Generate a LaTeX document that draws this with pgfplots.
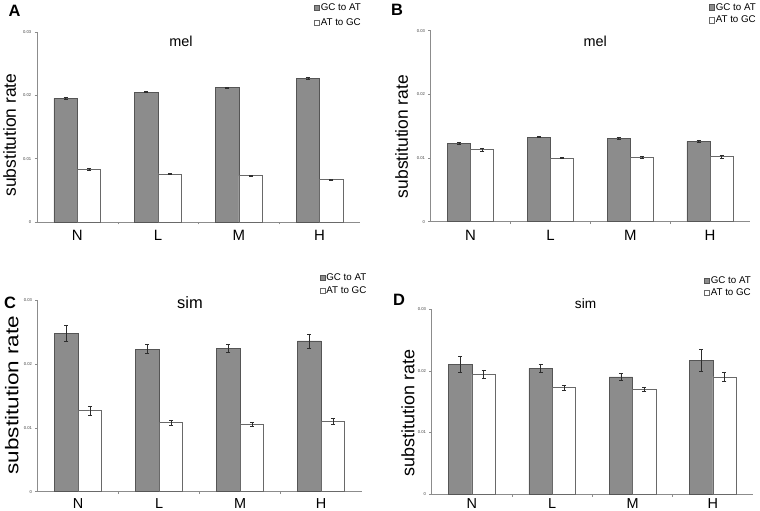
\documentclass[border=0pt]{standalone}
\usepackage{fontspec}
\setmainfont{Liberation Sans}
\usepackage{graphicx}
\usepackage{pgfplots}
\pgfplotsset{compat=1.18}
\definecolor{barg}{RGB}{140,140,140}
\definecolor{bargedge}{RGB}{85,85,85}
\definecolor{whiteedge}{RGB}{105,105,105}
\definecolor{axgray}{RGB}{140,140,140}
\definecolor{errc}{RGB}{45,45,45}
\pgfplotsset{
 panel/.style={
  scale only axis, clip=false,
  xmin=-0.5, xmax=3.5, ymin=0, ymax=0.03,
  axis x line=bottom, axis y line=left,
  axis line style={-, draw=axgray, line width=0.6pt},
  xtick={0,1,2,3}, xticklabels={N,L,M,H},
  x tick label style={font=\fontsize{15}{15}\selectfont, inner sep=0pt, anchor=north, yshift=-5.5bp},
  major x tick style={draw=none},
  extra x ticks={0.5,1.5,2.5}, extra x tick labels={},
  extra x tick style={major x tick style={draw=axgray, line width=0.5pt}},
  ytick={0,0.01,0.02,0.03}, yticklabels={0,0.01,0.02,0.03},
  scaled y ticks=false,
  y tick label style={font=\fontsize{4.2}{4.2}\selectfont, inner sep=0pt, anchor=east, xshift=-3bp, text=black!75},
  major y tick style={draw=axgray, line width=0.5pt},
  major tick length=2.5bp, tick align=outside,
  ybar, bar width=0.29,
  ylabel={substitution rate},
  ylabel style={font=\fontsize{17.5}{18}\selectfont, inner sep=0pt, anchor=center},
  legend style={draw=none, fill=none, inner sep=0pt, outer sep=0pt,
     font=\fontsize{9.8}{11}\selectfont, anchor=north west,
     nodes={inner sep=1bp}},
  legend cell align=left,
  legend image code/.code={\draw[#1, line width=0.4pt] (0bp,-2.7bp) rectangle (5.4bp,2.7bp);},
 },
 gcbar/.style={fill=barg, draw=bargedge, line width=0.6pt, bar shift=-0.145,
   error bars/.cd, y dir=both, y explicit,
   error bar style={draw=errc, line width=0.6pt},
   error mark options={draw=errc, line width=0.6pt, mark size=2bp, rotate=90}},
 atbar/.style={fill=white, draw=whiteedge, line width=0.6pt, bar shift=0.145,
   error bars/.cd, y dir=both, y explicit,
   error bar style={draw=errc, line width=0.6pt},
   error mark options={draw=errc, line width=0.6pt, mark size=2bp, rotate=90}},
}
\begin{document}
\begin{tikzpicture}
\path[use as bounding box] (0,0) rectangle (760bp,511bp);
% Panel A
\begin{axis}[panel, at={(37bp,289bp)}, anchor=south west, width=323bp, height=190bp,
  ylabel style={at={(axis description cs:-0.0845,0.458)}},
  legend style={at={(axis description cs:0.8576,1.155)}, row sep=4.5bp}]
\addplot[gcbar] coordinates {(0,0.0195) +- (0,0.0002) (1,0.0205) +- (0,0.0001) (2,0.0212) +- (0,0.0001) (3,0.0227) +- (0,0.0002)};
\addplot[atbar] coordinates {(0,0.0083) +- (0,0.0001) (1,0.0076) +- (0,0.00005) (2,0.0073) +- (0,0.00005) (3,0.0067) +- (0,0.0001)};
\legend{GC to AT, AT to GC}
\node[font=\fontsize{14.5}{15}\selectfont] at (axis description cs:0.446,0.953) {mel};
\end{axis}
% Panel B
\begin{axis}[panel, at={(430.7bp,289.3bp)}, anchor=south west, width=319.3bp, height=191bp,
  ylabel style={at={(axis description cs:-0.0908,0.446)}},
  legend style={at={(axis description cs:0.8716,1.149)}, row sep=2.5bp}]
\addplot[gcbar] coordinates {(0,0.0123) +- (0,0.0002) (1,0.0133) +- (0,0.0001) (2,0.0131) +- (0,0.0001) (3,0.0126) +- (0,0.0002)};
\addplot[atbar] coordinates {(0,0.0113) +- (0,0.0002) (1,0.0100) +- (0,0.0001) (2,0.0101) +- (0,0.0001) (3,0.0102) +- (0,0.0002)};
\legend{GC to AT, AT to GC}
\node[font=\fontsize{14.5}{15}\selectfont] at (axis description cs:0.515,0.946) {mel};
\end{axis}
% Panel C
\begin{axis}[panel, at={(37.7bp,19.3bp)}, anchor=south west, width=324bp, height=191.7bp,
  x tick label style={font=\fontsize{14.5}{15}\selectfont, yshift=1.5bp},
  ylabel={\scalebox{1.22}[1]{substitution rate}},
  ylabel style={font=\fontsize{18.5}{19}\selectfont, at={(axis description cs:-0.080,0.504)}},
  legend style={at={(axis description cs:0.870,1.1435)}, row sep=2.8bp}]
\addplot[gcbar] coordinates {(0,0.0248) +- (0,0.0013) (1,0.0223) +- (0,0.0007) (2,0.0224) +- (0,0.0006) (3,0.0236) +- (0,0.0011)};
\addplot[atbar] coordinates {(0,0.0127) +- (0,0.0007) (1,0.0108) +- (0,0.0004) (2,0.0106) +- (0,0.0003) (3,0.0110) +- (0,0.0005)};
\legend{GC to AT, AT to GC}
\node[font=\fontsize{16.5}{17}\selectfont] at (axis description cs:0.47,0.986) {sim};
\end{axis}
% Panel D
\begin{axis}[panel, at={(431.7bp,16.7bp)}, anchor=south west, width=321.3bp, height=185.3bp,
  x tick label style={font=\fontsize{14.5}{15}\selectfont, yshift=4bp},
  ylabel style={font=\fontsize{18}{18}\selectfont, at={(axis description cs:-0.0738,0.44)}},
  legend style={at={(axis description cs:0.8475,1.181)}, row sep=1.8bp}]
\addplot[gcbar] coordinates {(0,0.0210) +- (0,0.0013) (1,0.0204) +- (0,0.0007) (2,0.0190) +- (0,0.0006) (3,0.0217) +- (0,0.0018)};
\addplot[atbar] coordinates {(0,0.0194) +- (0,0.0007) (1,0.0173) +- (0,0.0004) (2,0.0170) +- (0,0.0004) (3,0.0190) +- (0,0.0007)};
\legend{GC to AT, AT to GC}
\node[font=\fontsize{13.7}{14}\selectfont] at (axis description cs:0.479,1.027) {sim};
\end{axis}
% panel letters
\node[font=\fontsize{16.5}{17}\selectfont\bfseries] at (14.5bp,500bp) {A};
\node[font=\fontsize{16.5}{17}\selectfont\bfseries] at (397bp,501bp) {B};
\node[font=\fontsize{16.5}{17}\selectfont\bfseries] at (10bp,208.5bp) {C};
\node[font=\fontsize{16.5}{17}\selectfont\bfseries] at (399bp,210.7bp) {D};
\end{tikzpicture}
\end{document}
